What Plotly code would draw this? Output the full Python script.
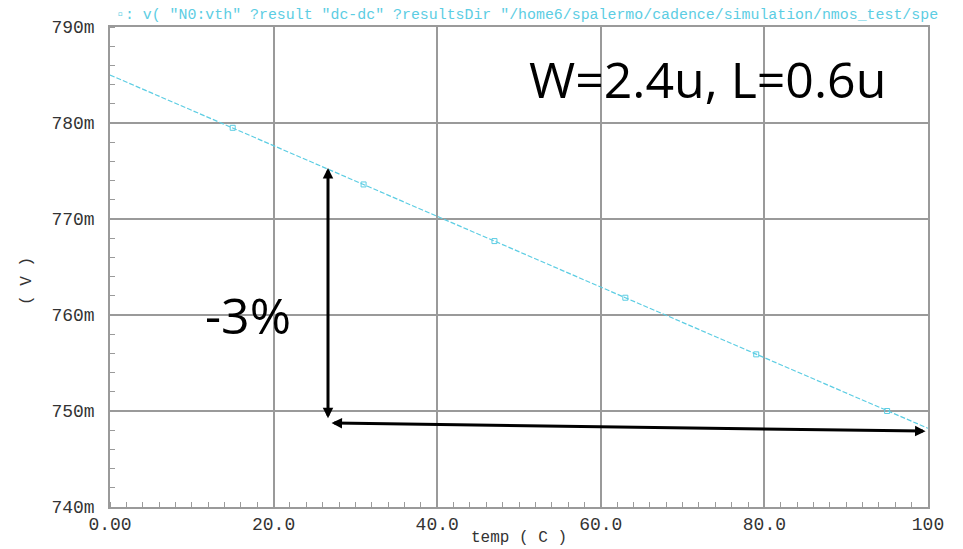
import plotly.graph_objects as go

# ---- data ----
temps = [0, 15, 31, 47, 63, 79, 95, 100]
vth_mV = [785.0, 779.5, 773.6, 767.7, 761.8, 755.9, 750.0, 748.2]
marker_temps = [15, 31, 47, 63, 79, 95]
marker_vth_mV = [779.5, 773.6, 767.7, 761.8, 755.9, 750.0]

x_tickvals = [0, 20, 40, 60, 80, 100]
x_ticktext = ["0.00", "20.0", "40.0", "60.0", "80.0", "100"]
y_tickvals = [740, 750, 760, 770, 780, 790]
y_ticktext = ["740m", "750m", "760m", "770m", "780m", "790m"]

# arrow endpoints (temp, mV)
vert_arrow = [(26.65, 749.1), (26.65, 775.3)]
horiz_arrow = [(26.9, 748.75), (99.7, 747.9)]

legend_text = '▫: v( "N0:vth" ?result "dc-dc" ?resultsDir "/home6/spalermo/cadence/simulation/nmos_test/spe'
cyan = "#5ccde3"

fig = go.Figure()
fig.add_trace(go.Scatter(x=temps, y=vth_mV, mode="lines",
                         line=dict(color=cyan, width=1.2, dash="5px,2px"),
                         showlegend=False, hoverinfo="skip"))
fig.add_trace(go.Scatter(x=marker_temps, y=marker_vth_mV, mode="markers",
                         marker=dict(symbol="square-open", size=5, color=cyan,
                                     line=dict(width=1, color=cyan)),
                         showlegend=False))

mono = "Liberation Mono"
txt = "#333333"
axis_common = dict(showline=True, linecolor="#9a9a9a", linewidth=1.5, mirror=True,
                   showgrid=True, gridcolor="#9a9a9a", gridwidth=1.5, automargin=False,
                   zeroline=False, ticks="", tickfont=dict(family=mono, size=18, color=txt))

fig.update_xaxes(range=[0, 100], tickmode="array", tickvals=x_tickvals, ticktext=x_ticktext,
                 ticklabelstandoff=0,
                 minor=dict(dtick=2, ticks="inside", ticklen=5, tickcolor="#9a9a9a", showgrid=False),
                 **axis_common)
fig.update_yaxes(range=[740, 790], tickmode="array", tickvals=y_tickvals, ticktext=y_ticktext,
                 ticklabelstandoff=10,
                 minor=dict(dtick=2, ticks="inside", ticklen=5, tickcolor="#9a9a9a", showgrid=False),
                 **axis_common)

annotations = [
    dict(xref="paper", yref="paper", x=0.005, y=1.0, xanchor="left", yanchor="bottom", yshift=2,
         text=legend_text, showarrow=False, font=dict(family=mono, size=14.9, color=cyan)),
    dict(xref="paper", yref="paper", x=0.5, y=0, xanchor="center", yanchor="middle", yshift=-31,
         text="temp ( C )", showarrow=False, font=dict(family=mono, size=16, color=txt)),
    dict(xref="paper", yref="paper", x=0, y=0.5, xanchor="center", yanchor="middle",
         xshift=-83, yshift=-14, textangle=-90,
         text="( V )", showarrow=False, font=dict(family=mono, size=16, color=txt)),
    dict(xref="x", yref="y", x=22.4, y=760.0, xanchor="right", yanchor="middle",
         text="-3%", showarrow=False, font=dict(family="Open Sans", size=50, color="black")),
    dict(xref="x", yref="y", x=73.0, y=784.6, xanchor="center", yanchor="middle",
         text="W=2.4u, L=0.6u", showarrow=False, font=dict(family="Open Sans", size=50, color="black")),
]
for (a, b) in (vert_arrow, horiz_arrow):
    annotations.append(dict(xref="x", yref="y", axref="x", ayref="y",
                            x=b[0], y=b[1], ax=a[0], ay=a[1], text="",
                            showarrow=True, arrowhead=2, startarrowhead=2, arrowside="end+start",
                            arrowsize=0.7, startarrowsize=0.7, arrowwidth=3, arrowcolor="black"))

fig.update_layout(width=963, height=549, margin=dict(l=110, r=35, t=27, b=42),
                  paper_bgcolor="white", plot_bgcolor="white",
                  annotations=annotations, showlegend=False)

fig.write_html("out.html")
